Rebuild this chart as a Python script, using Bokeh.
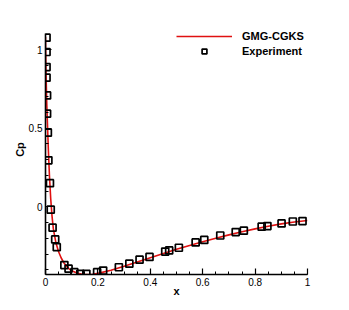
from bokeh.plotting import figure
from bokeh.models import FixedTicker, PrintfTickFormatter, Legend, LegendItem, Range1d
from bokeh.embed import file_html
from bokeh.resources import INLINE

# CFD line (GMG-CGKS)
line_x = [0.0, 0.0005, 0.0015, 0.003, 0.005, 0.008, 0.011, 0.015, 0.02, 0.025, 0.03,
          0.04, 0.05, 0.06, 0.07, 0.08, 0.09, 0.10, 0.12, 0.14, 0.16, 0.18, 0.20,
          0.25, 0.30, 0.35, 0.40, 0.45, 0.50, 0.55, 0.60, 0.65, 0.70, 0.75, 0.80,
          0.85, 0.90, 0.95, 1.00]
line_cp = [1.08, 1.0, 0.9, 0.78, 0.65, 0.50, 0.36, 0.20, 0.05, -0.06, -0.14,
           -0.23, -0.285, -0.325, -0.355, -0.377, -0.394, -0.406, -0.421, -0.429, -0.431, -0.429, -0.423,
           -0.403, -0.378, -0.350, -0.323, -0.296, -0.270, -0.245, -0.222, -0.199, -0.178, -0.158, -0.140,
           -0.123, -0.108, -0.096, -0.087]

# Experiment
exp_x = [0.004, 0.004, 0.004, 0.004, 0.006, 0.006, 0.009, 0.011, 0.017, 0.020, 0.027,
         0.037, 0.043, 0.072, 0.088, 0.110, 0.133, 0.156, 0.197, 0.220, 0.280,
         0.320, 0.359, 0.397, 0.457, 0.472, 0.509, 0.573, 0.606, 0.667, 0.726,
         0.757, 0.825, 0.847, 0.901, 0.944, 0.981]
exp_cp = [1.076, 0.985, 0.889, 0.822, 0.709, 0.593, 0.472, 0.296, 0.151, -0.018, -0.132,
          -0.207, -0.256, -0.370, -0.393, -0.415, -0.426, -0.426, -0.415, -0.405, -0.384,
          -0.361, -0.336, -0.318, -0.284, -0.277, -0.260, -0.226, -0.210, -0.182, -0.160,
          -0.151, -0.126, -0.122, -0.105, -0.093, -0.090]

x_major = [0, 0.2, 0.4, 0.6, 0.8, 1]
x_minor = [i * 0.05 for i in range(21)]
y_major = [0, 0.5, 1]
y_minor = [round(-0.4 + i * 0.1, 2) for i in range(15)]

p = figure(frame_width=262, frame_height=250, min_border_left=45, min_border_right=30,
           min_border_top=24, min_border_bottom=28,
           x_range=Range1d(0, 1), y_range=Range1d(-0.43, 1.16),
           output_backend="svg", toolbar_location=None)
p.outline_line_color = None
p.grid.visible = False
p.background_fill_color = "white"
p.border_fill_color = "white"

r_line = p.line(line_x, line_cp, line_color="#e01010", line_width=1.6)
r_exp = p.scatter(exp_x, exp_cp, marker="square", size=7, fill_color=None,
                  line_color="black", line_width=1.7)

p.xaxis.ticker = FixedTicker(ticks=x_major, minor_ticks=x_minor)
p.yaxis.ticker = FixedTicker(ticks=y_major, minor_ticks=y_minor)
p.yaxis.bounds = (-0.43, 1.1)
for ax in (p.xaxis, p.yaxis):
    ax.formatter = PrintfTickFormatter(format="%g")
    ax.axis_line_width = 1.6
    ax.axis_line_color = "black"
    ax.major_tick_in = 6
    ax.major_tick_out = 0
    ax.minor_tick_in = 3
    ax.minor_tick_out = 0
    ax.major_tick_line_width = 1.2
    ax.minor_tick_line_width = 1.0
    ax.major_label_text_font = "Liberation Sans"
    ax.major_label_text_font_size = "10px"
    ax.major_label_text_color = "black"
    ax.axis_label_text_font = "Liberation Sans"
    ax.axis_label_text_font_size = "11px"
    ax.axis_label_text_font_style = "bold"
    ax.axis_label_text_color = "black"
    ax.major_label_standoff = 3
p.xaxis.axis_label = "x"
p.yaxis.axis_label = "Cp"
p.xaxis.axis_label_standoff = -4
p.yaxis.axis_label_standoff = 0

legend = Legend(items=[LegendItem(label="GMG-CGKS", renderers=[r_line]),
                       LegendItem(label="Experiment", renderers=[r_exp])],
                location=(131, 217))
legend.border_line_color = None
legend.background_fill_color = None
legend.padding = 0
legend.margin = 0
legend.spacing = 3
legend.glyph_width = 56
legend.glyph_height = 12
legend.label_height = 12
legend.label_standoff = 10
legend.label_text_font = "Liberation Sans"
legend.label_text_font_size = "11px"
legend.label_text_font_style = "bold"
legend.label_text_color = "black"
p.add_layout(legend, "center")

open("out.html", "w").write(file_html(p, INLINE))
